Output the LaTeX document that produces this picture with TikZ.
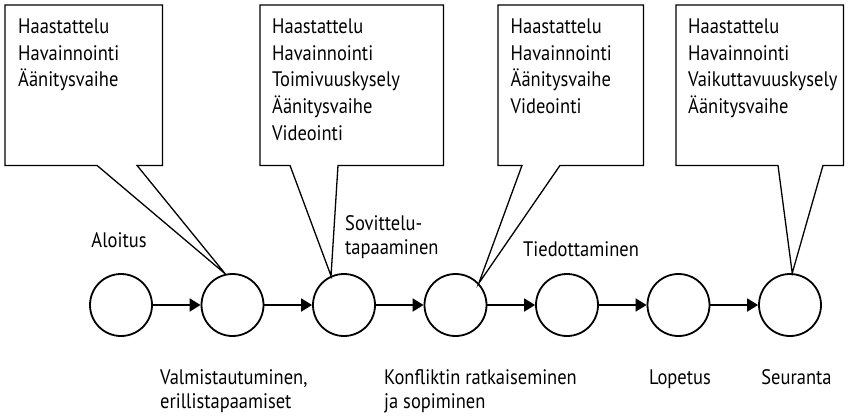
\documentclass[tikz,border=0pt]{standalone}
\usepackage{fontspec}
\setmainfont{PT Sans}[FakeStretch=0.88]
\usetikzlibrary{arrows.meta}
\begin{document}
\begin{tikzpicture}[x=1pt,y=-1pt,
  phase/.style={circle, draw, line width=1.8pt, minimum size=62pt, inner sep=0pt},
  flow/.style={line width=1.8pt, -{Triangle[length=11pt,width=13pt]}},
  callout/.style={draw, line width=1.3pt, line join=miter},
  frame/.style={rectangle, inner sep=0pt, anchor=north west},
  methods/.style={anchor=base west, align=left, inner sep=0pt,
                  font=\fontsize{21}{26.7}\selectfont},
  stage/.style={anchor=base west, align=left, inner sep=0pt,
                font=\fontsize{21}{24.3}\selectfont}]
\useasboundingbox (0,0) rectangle (848,415);

% process phases
\foreach \i in {1,...,7}
  \node[phase] (c\i) at ({121+111.5*(\i-1)},305) {};
\foreach \i [count=\j from 2] in {1,...,6}
  \draw[flow] (c\i) -- (c\j);

% callout frames
\node[frame, minimum width=157pt, minimum height=160pt] (b1) at (5,5) {};
\node[frame, minimum width=183pt, minimum height=160pt] (b2) at (260,5) {};
\node[frame, minimum width=145pt, minimum height=160pt] (b3) at (498,5) {};
\node[frame, minimum width=167pt, minimum height=160pt] (b4) at (676,5) {};

\draw[callout] (b1.north west) -- (b1.north east) -- (b1.south east)
  -- ([xshift=132pt]b1.south west) -- (c2.103) -- ([xshift=92pt]b1.south west)
  -- (b1.south west) -- cycle;
\draw[callout] (b2.north west) -- (b2.north east) -- (b2.south east)
  -- ([xshift=78pt]b2.south west) -- (c3.114) -- ([xshift=30pt]b2.south west)
  -- (b2.south west) -- cycle;
\draw[callout] (b3.north west) -- (b3.north east) -- (b3.south east)
  -- ([xshift=62pt]b3.south west) -- (c4.43) -- ([xshift=24pt]b3.south west)
  -- (b3.south west) -- cycle;
\draw[callout] (b4.north west) -- (b4.north east) -- (b4.south east)
  -- ([xshift=147pt]b4.south west) -- (c7.86) -- ([xshift=102pt]b4.south west)
  -- (b4.south west) -- cycle;

% callout contents (anchored at the baseline of the last line)
\node[methods] (m1) at ([xshift=13pt,yshift=-81.7pt]b1.north west)
  {Haastattelu\\Havainnointi\\Äänitysvaihe};
\node[methods] (m2) at ([xshift=12pt,yshift=-135.1pt]b2.north west)
  {Haastattelu\\Havainnointi\\Toimivuuskysely\\Äänitysvaihe\\Videointi};
\node[methods] (m3) at ([xshift=12.5pt,yshift=-108.4pt]b3.north west)
  {Haastattelu\\Havainnointi\\Äänitysvaihe\\Videointi};
\node[methods] (m4) at ([xshift=12pt,yshift=-108.4pt]b4.north west)
  {Haastattelu\\Havainnointi\\Vaikuttavuuskysely\\Äänitysvaihe};

% phase names
\node[stage, anchor=base] (l1) at (119,247) {Aloitus};
\node[stage] (l3) at (345,254.5) {Sovittelu-\\tapaaminen};
\node[stage] (l5) at (523,256) {Tiedottaminen};
\node[stage] (l2) at (160,408.8) {Valmistautuminen,\\erillistapaamiset};
\node[stage] (l4) at (384,408.8) {Konfliktin ratkaiseminen\\ja sopiminen};
\node[stage, anchor=base] (l6) at (680,384.5) {Lopetus};
\node[stage, anchor=base] (l7) at (796.5,384.5) {Seuranta};
\end{tikzpicture}
\end{document}
